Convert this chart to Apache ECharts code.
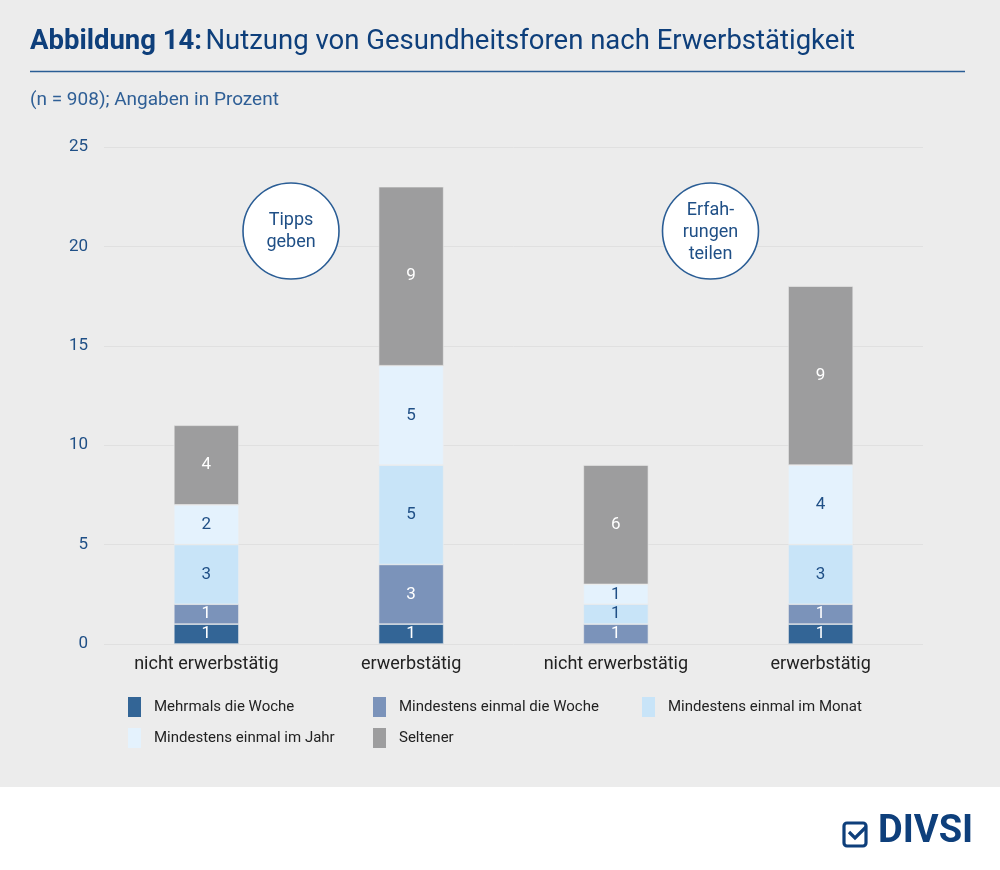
<!DOCTYPE html>
<html><head><meta charset="utf-8">
<script src="https://cdn.jsdelivr.net/npm/echarts@6/dist/echarts.min.js"></script>
<style>html,body{margin:0;padding:0;background:#fff}#c{width:1000px;height:870px}</style>
</head><body><div id="c"></div>
<script>
const categories = ['nicht erwerbstätig', 'erwerbstätig', 'nicht erwerbstätig', 'erwerbstätig'];
const seriesNames = ['Mehrmals die Woche', 'Mindestens einmal die Woche', 'Mindestens einmal im Monat', 'Mindestens einmal im Jahr', 'Seltener'];
const mehrmals = [1, 1, 0, 1];
const woche = [1, 3, 1, 1];
const monat = [3, 5, 1, 3];
const jahr = [2, 5, 1, 4];
const seltener = [4, 9, 6, 9];
const yTicks = [0, 5, 10, 15, 20, 25];

const values = [mehrmals, woche, monat, jahr, seltener];
const colors = ['#336596', '#7b93ba', '#c8e4f8', '#e4f2fd', '#9d9d9e'];
const labelColors = ['#ffffff', '#ffffff', '#1f4f86', '#1f4f86', '#ffffff'];
const FONT = 'Roboto, "Noto Sans", sans-serif';
const blue = '#1f4f86';

const chart = echarts.init(document.getElementById('c'));
const legendPos = [[128, 697], [373, 697], [642, 697], [128, 728], [373, 728]];

chart.setOption({
  backgroundColor: '#ffffff',
  textStyle: { fontFamily: FONT },
  graphic: [
    { type: 'rect', z: -10, silent: true, shape: { x: 0, y: 0, width: 1000, height: 787 }, style: { fill: '#ececec' } },
    { type: 'text', left: 30, top: 28, style: { rich: { b: { fontWeight: 'bold', fontSize: 27.5, fill: '#0e3f7b', fontFamily: FONT }, n: { fontSize: 27.5, fill: '#0e3f7b', fontFamily: FONT } }, text: '{b|Abbildung 14:} {n|Nutzung von Gesundheitsforen nach Erwerbstätigkeit}' } },
    { type: 'line', shape: { x1: 30, y1: 71.5, x2: 965, y2: 71.5 }, style: { stroke: '#2a5d95', lineWidth: 1.5 } },
    { type: 'text', left: 30, top: 91, style: { text: '(n = 908); Angaben in Prozent', fontSize: 19, fill: '#2f5f96', fontFamily: FONT } },
    { type: 'circle', shape: { cx: 291, cy: 231, r: 48 }, style: { fill: '#ffffff', stroke: '#2a5d95', lineWidth: 1.6 }, z: 20 },
    { type: 'text', z: 21, x: 291, y: 231, style: { text: 'Tipps\ngeben', fontSize: 18, lineHeight: 22, fill: blue, align: 'center', verticalAlign: 'middle', fontFamily: FONT } },
    { type: 'circle', shape: { cx: 710.5, cy: 231, r: 48 }, style: { fill: '#ffffff', stroke: '#2a5d95', lineWidth: 1.6 }, z: 20 },
    { type: 'text', z: 21, x: 710.5, y: 232, style: { text: 'Erfah-\nrungen\nteilen', fontSize: 18, lineHeight: 22, fill: blue, align: 'center', verticalAlign: 'middle', fontFamily: FONT } },
    { type: 'rect', shape: { x: 844, y: 823, width: 22, height: 23, r: 3 }, style: { fill: 'none', stroke: '#0e3f7b', lineWidth: 3.2 } },
    { type: 'polyline', shape: { points: [[849, 832], [855, 838], [866, 827]] }, style: { fill: 'none', stroke: '#0e3f7b', lineWidth: 3.2 } },
    { type: 'text', left: 878, top: 813, style: { text: 'DIVSI', fontSize: 38, fontWeight: 'bold', fill: '#0e3f7b', fontFamily: FONT } }
  ],
  legend: legendPos.map((p, i) => ({
    left: p[0], top: p[1], orient: 'horizontal', itemWidth: 13, itemHeight: 20, itemGap: 0,
    icon: 'rect',
    itemStyle: { borderWidth: 0 },
    data: [seriesNames[i]], selectedMode: false,
    textStyle: { fontSize: 15, color: '#222222', padding: [0, 0, 0, 8], fontFamily: FONT },
    padding: 0
  })),
  grid: { left: 104, right: 77, top: 147, bottom: 226, containLabel: false },
  xAxis: {
    type: 'category', data: categories,
    axisLine: { show: false }, axisTick: { show: false },
    axisLabel: { fontSize: 18, color: '#222222', margin: 11, fontFamily: FONT }
  },
  yAxis: {
    type: 'value', min: 0, max: 25, interval: 5,
    axisLine: { show: false }, axisTick: { show: false },
    axisLabel: { fontSize: 17, color: blue, margin: 16, fontFamily: FONT, formatter: v => yTicks.includes(v) ? String(v) : '' },
    splitLine: { lineStyle: { color: '#e0e0e0', width: 1 } }
  },
  series: seriesNames.map((name, i) => ({
    name, type: 'bar', stack: 'total', barWidth: 65,
    data: values[i].map(v => v === 0 ? null : v),
    itemStyle: { color: colors[i], borderColor: '#ececec', borderWidth: 0.6 },
    label: { show: true, position: 'inside', fontSize: 17, color: labelColors[i], fontFamily: FONT },
    emphasis: { disabled: true }
  }))
});
</script></body></html>
